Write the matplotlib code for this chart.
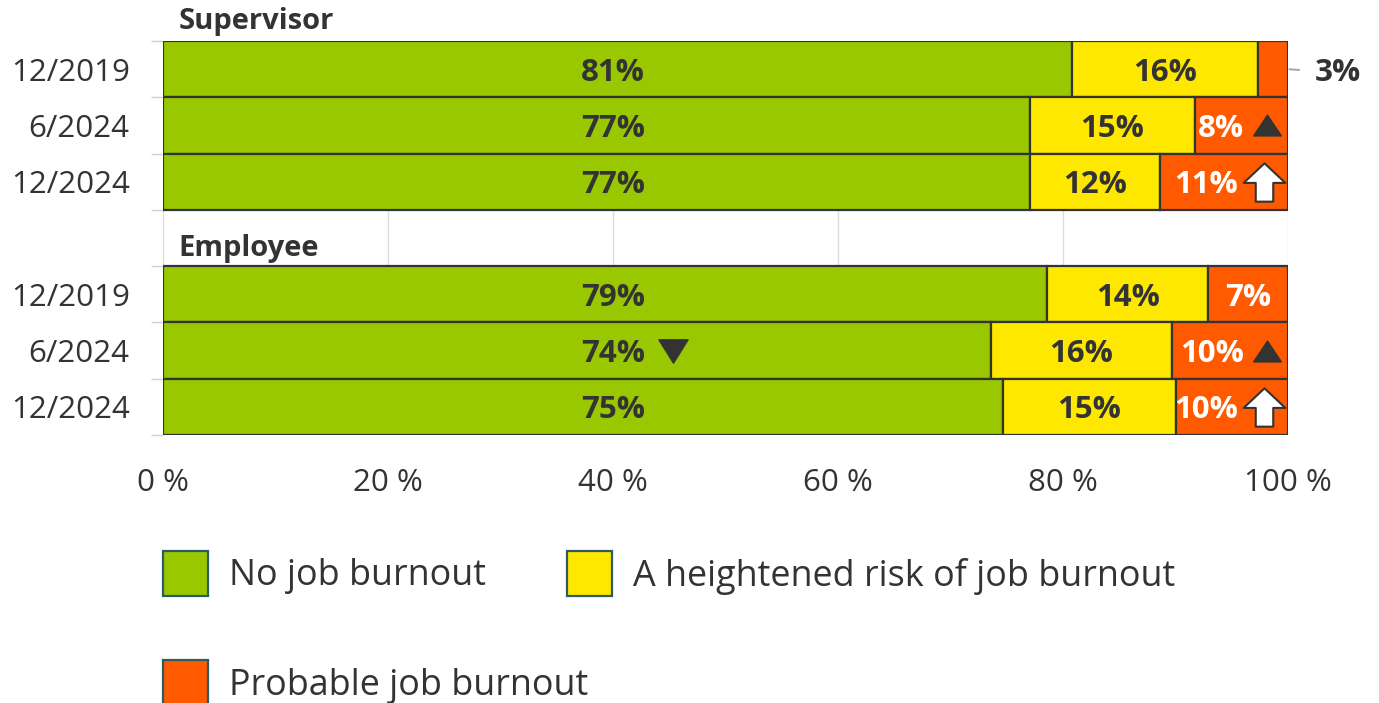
import matplotlib
matplotlib.use('Agg')
import matplotlib.pyplot as plt
from matplotlib.path import Path
from matplotlib.patches import Rectangle
import matplotlib.transforms as mtrans

plt.rcParams['font.family'] = ['Open Sans', 'DejaVu Sans']

# ---------------- data ----------------
groups = ['Supervisor', 'Employee']
periods = ['12/2019', '6/2024', '12/2024']
series = ['No job burnout', 'A heightened risk of job burnout', 'Probable job burnout']
colors = ['#99C800', '#FFE800', '#FF5A00']

sup_no = [80.8, 77.1, 77.1]
sup_risk = [16.5, 14.6, 11.5]
sup_prob = [2.7, 8.3, 11.4]
emp_no = [78.6, 73.6, 74.7]
emp_risk = [14.3, 16.1, 15.3]
emp_prob = [7.1, 10.3, 10.0]

sup_labels = [['81%', '16%', '3%'], ['77%', '15%', '8%'], ['77%', '12%', '11%']]
emp_labels = [['79%', '14%', '7%'], ['74%', '16%', '10%'], ['75%', '15%', '10%']]
# change flags per cell: None, 'up' (triangle), 'down' (triangle), 'arrow' (block arrow)
sup_flags = [[None, None, None], [None, None, 'up'], [None, None, 'arrow']]
emp_flags = [[None, None, None], ['down', None, 'up'], [None, None, 'arrow']]

xticks = [0, 20, 40, 60, 80, 100]
xticklabels = ['0 %', '20 %', '40 %', '60 %', '80 %', '100 %']

# ---------------- figure ----------------
W, H = 1379, 703
fig = plt.figure(figsize=(W / 100, H / 100), dpi=100)
ax = fig.add_axes([163 / W, 1 - 435 / H, (1288 - 163) / W, (435 - 41) / H])

DARK = '#333333'
TXT = '#333333'

group_data = [
    (groups[0], [sup_no, sup_risk, sup_prob], sup_labels, sup_flags, 0),
    (groups[1], [emp_no, emp_risk, emp_prob], emp_labels, emp_flags, 4),
]

# markers
tri_up = Path([(-1, -0.75), (1, -0.75), (0, 0.75), (-1, -0.75)],
              [Path.MOVETO, Path.LINETO, Path.LINETO, Path.CLOSEPOLY])
tri_down = Path([(-1, 0.8), (1, 0.8), (0, -0.8), (-1, 0.8)],
                [Path.MOVETO, Path.LINETO, Path.LINETO, Path.CLOSEPOLY])
arrow_verts = [(-1, -0.02), (0, 0.92), (1, -0.02), (0.42, -0.02), (0.42, -0.92),
               (-0.42, -0.92), (-0.42, -0.02), (-1, -0.02)]
arrow_path = Path(arrow_verts, [Path.MOVETO] + [Path.LINETO] * 6 + [Path.CLOSEPOLY])

def off(dx_pt, dy_pt=0):
    return mtrans.offset_copy(ax.transData, fig=fig, x=dx_pt, y=dy_pt, units='points')

ytick_pos = []
ytick_lab = []
GREEN_LABEL_X = 40
FS = 22.5
TDY = -2.5  # small downward nudge of bar labels

for gname, vals, labs, flags, base in group_data:
    for i, per in enumerate(periods):
        y = base + i
        ytick_pos.append(y)
        ytick_lab.append(per)
        left = 0
        for k in range(3):
            v = vals[k][i]
            ax.barh(y, v, left=left, height=1.0, color=colors[k], edgecolor=DARK,
                    linewidth=1.6, zorder=3)
            lab = labs[i][k]
            flag = flags[i][k]
            tcol = 'white' if k == 2 else TXT
            right = left + v
            if v < 5:
                ax.annotate(lab, xy=(right, y), xytext=(19, TDY), textcoords='offset points',
                            ha='left', va='center', fontsize=FS, fontweight='bold', color=TXT,
                            arrowprops=dict(arrowstyle='-', color='#a0a0a0', lw=1.3,
                                            shrinkA=9, shrinkB=1), zorder=5)
            elif k == 0:
                ax.text(GREEN_LABEL_X, y, lab, ha='center', va='center', fontsize=FS,
                        fontweight='bold', color=tcol, zorder=5, transform=off(0, TDY))
                if flag == 'down':
                    ax.plot([GREEN_LABEL_X], [y], marker=tri_down, markersize=21,
                            color=DARK, linestyle='none', transform=off(43), zorder=6)
            elif flag is None:
                ax.text(left + v / 2, y, lab, ha='center', va='center', fontsize=FS,
                        fontweight='bold', color=tcol, zorder=5, transform=off(0, TDY))
            else:
                dx = -32 if flag == 'up' else -36
                ax.text(right, y, lab, ha='right', va='center', fontsize=FS,
                        fontweight='bold', color=tcol, zorder=5, transform=off(dx, TDY))
                if flag == 'up':
                    ax.plot([right], [y], marker=tri_up, markersize=20, color=DARK,
                            linestyle='none', transform=off(-15), zorder=6)
                elif flag == 'arrow':
                    ax.plot([right], [y], marker=arrow_path, markersize=30,
                            markerfacecolor='white', markeredgecolor=DARK,
                            markeredgewidth=1.5, linestyle='none',
                            transform=off(-17), zorder=6)
            left = right

# group headings
ax.annotate(groups[0], xy=(0, -0.5), xytext=(11, 14), textcoords='offset points',
            ha='left', va='center', fontsize=21, fontweight='bold', color=TXT,
            annotation_clip=False)
ax.annotate(groups[1], xy=(0, 3.5), xytext=(11, 13), textcoords='offset points',
            ha='left', va='center', fontsize=21, fontweight='bold', color=TXT,
            annotation_clip=False)

ax.set_xlim(0, 100)
ax.set_ylim(6.5, -0.5)
ax.set_xticks(xticks)
ax.set_xticklabels(xticklabels)
ax.set_yticks(ytick_pos)
ax.set_yticklabels(ytick_lab)
ax.set_yticks([b - 0.5 for b in range(8)], minor=True)
ax.tick_params(axis='y', which='major', length=0, pad=24, labelsize=22.5, labelcolor=TXT)
ax.tick_params(axis='y', which='minor', length=9, width=1, color='#d0d0d0')
ax.tick_params(axis='x', which='major', length=0, pad=24, labelsize=22.5, labelcolor=TXT)
ax.grid(axis='x', color='#dcdcdc', linewidth=1, zorder=0)
ax.set_axisbelow(True)
for s in ax.spines.values():
    s.set_visible(False)

# legend (manual)
leg_items = [(163, 551), (567, 551), (163, 660)]
for (px, py), name, c in zip(leg_items, series, colors):
    fig.add_artist(Rectangle((px / W, 1 - (py + 45) / H), 45 / W, 45 / H,
                             transform=fig.transFigure, facecolor=c,
                             edgecolor='#2E5A66', linewidth=1.6))
    fig.text((px + 66) / W, 1 - (py + 25.5) / H, name, ha='left', va='center',
             fontsize=25.8, color=TXT)

fig.savefig('out.png', dpi=100)
